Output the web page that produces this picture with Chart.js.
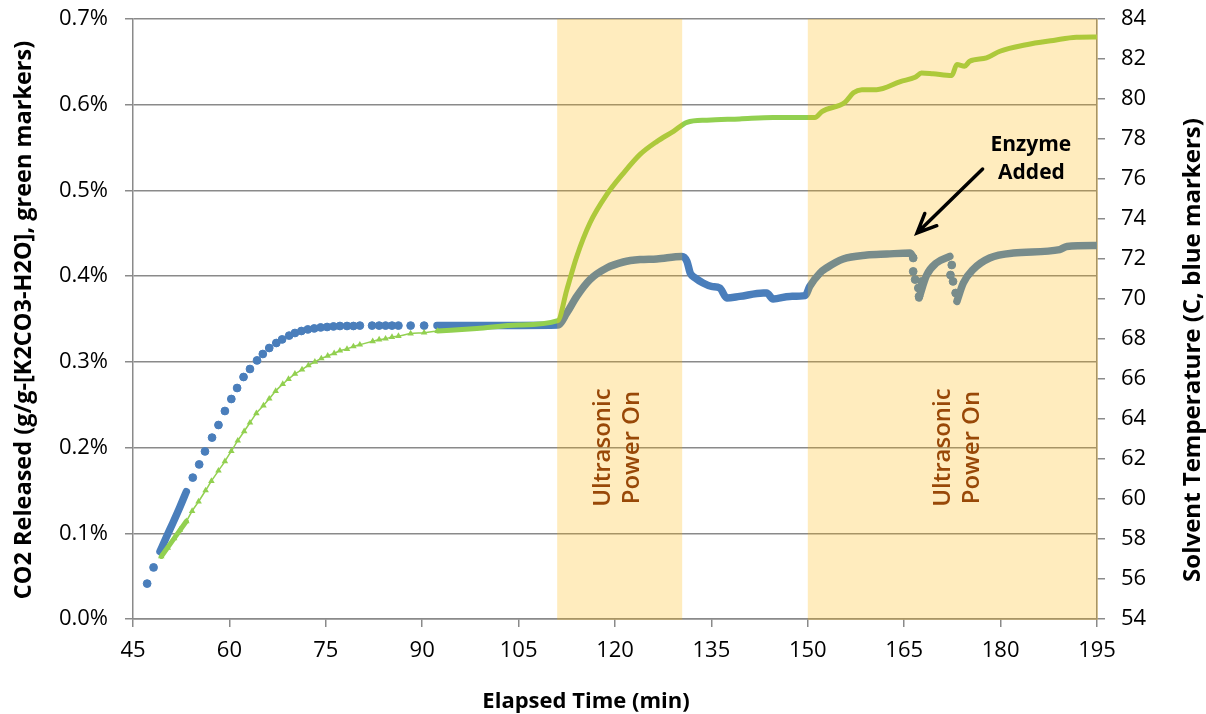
<!DOCTYPE html>
<html>
<head>
<meta charset="utf-8">
<script src="https://cdn.jsdelivr.net/npm/chart.js@4.4.1/dist/chart.umd.min.js"></script>
<style>
  html, body { margin: 0; padding: 0; background: #fff; }
  #wrap { width: 1206px; height: 714px; }
</style>
</head>
<body>
<div id="wrap"><canvas id="co2Chart" width="1206" height="714"></canvas></div>
<script>
// CO2 released (%), sparse triangle markers
const co2MarkerTime = [49.4, 50.4, 51.4, 52.3, 53.3, 54.2, 55.2, 56.3, 57.2, 58.3, 59.3, 60.3, 61.3, 62.3, 63.2, 64.2, 65.3, 66.2, 67.2, 68.3,
  69.2, 70.2, 71.3, 72.3, 73.3, 74.3, 75.3, 76.3, 77.2, 78.3, 79.3, 80.3, 82.3, 83.3, 84.3, 85.3, 86.3, 88.2, 90.3, 92.4];
const co2MarkerValue = [0.073, 0.083, 0.094, 0.104, 0.114, 0.126, 0.137, 0.150, 0.161, 0.173, 0.184, 0.196, 0.208, 0.219, 0.229, 0.240, 0.249, 0.257, 0.266, 0.274,
  0.280, 0.286, 0.291, 0.296, 0.300, 0.304, 0.307, 0.310, 0.313, 0.315, 0.318, 0.320, 0.324, 0.326, 0.327, 0.329, 0.330, 0.333, 0.334, 0.336];

// CO2 released (%), dense logging shown as a solid trace (null = gap)
const co2TraceTime = [49.4, 53.3, 70, 92.4, 98.5, 105, 111.1, 112.5, 114.05, 116.1, 118.7, 121.3, 123.9, 126.5, 129.1, 131.2, 134.3, 139.4, 144.6, 149.8,
  151.1, 152.2, 155.8, 157.1, 158.4, 160.7, 164.4, 166.7, 167.7, 169.5, 172.4, 173.2, 174.4, 175.2, 177.8, 179.9, 184.0, 188.2, 191.8, 195];
const co2TraceValue = [0.073, 0.114, null, 0.336, 0.339, 0.343, 0.348, 0.384, 0.423, 0.462, 0.495, 0.520, 0.542, 0.557, 0.569, 0.5795, 0.582, 0.5834, 0.585, 0.585,
  0.585, 0.592, 0.603, 0.614, 0.6176, 0.6176, 0.627, 0.632, 0.637, 0.636, 0.634, 0.6468, 0.645, 0.6507, 0.6546, 0.6624, 0.670, 0.675, 0.6787, 0.679];

// solvent temperature (C), sparse circle markers
const tempMarkerTime = [47.2, 48.2, 54.3, 55.3, 56.2, 57.3, 58.3, 59.3, 60.3, 61.2, 62.2, 63.2, 64.3, 65.2, 66.2, 67.3, 68.2, 69.3, 70.2, 71.2,
  72.2, 73.2, 74.2, 75.2, 76.2, 77.2, 78.3, 79.3, 80.3, 82.2, 83.3, 84.3, 85.3, 86.3, 88.2, 90.3,
  166.4, 166.4, 166.7, 167.2, 167.3, 167.7, 172.2, 172.4, 172.6, 173.0];
const tempMarkerValue = [55.77, 56.58, 61.07, 61.73, 62.38, 63.07, 63.7, 64.4, 65.0, 65.55, 66.1, 66.5, 66.93, 67.25, 67.55, 67.8, 67.98, 68.17, 68.3, 68.4,
  68.48, 68.53, 68.58, 68.6, 68.63, 68.65, 68.65, 68.65, 68.67, 68.67, 68.67, 68.67, 68.67, 68.67, 68.67, 68.67,
  72.05, 71.38, 70.97, 70.55, 70.13, 70.88, 71.2, 71.7, 70.88, 70.3];

// solvent temperature (C), dense logging shown as a solid trace (null = gap)
const tempTraceTime = [49.2, 50.2, 51.2, 52.3, 53.3, 70, 92.3, 100, 105, 111.1, 112.5, 114.05, 116.1, 118.7, 121.3, 123.9, 126.5, 130.4, 131.2, 131.7,
  132.5, 133.7, 135.0, 136.3, 137.4, 139.4, 143.1, 143.6, 144.6, 147.2, 149.6, 150.3, 151.9, 152.9, 155.5, 159.2, 162.3, 165.9, 166.4, 167,
  167.3, 168.5, 170.0, 172.1, 172.7, 173.2, 174.2, 175.7, 178.3, 182.0, 189.2, 190.3, 194.4, 195];
const tempTraceValue = [57.37, 58.1, 58.8, 59.6, 60.37, null, 68.67, 68.67, 68.68, 68.7, 69.3, 70.13, 70.97, 71.55, 71.85, 71.97, 72.0, 72.13, 71.88, 71.3,
  71.05, 70.8, 70.63, 70.55, 70.05, 70.13, 70.3, 70.3, 70.0, 70.13, 70.17, 70.63, 71.3, 71.55, 72.0, 72.2, 72.25, 72.3, 72.1, null,
  70.05, 71.2, 71.8, 72.13, null, 69.88, 70.8, 71.47, 72.05, 72.3, 72.47, 72.63, 72.67, 72.67];

// ultrasonic power on periods (min)
const powerOnStart = [111, 150];
const powerOnEnd = [130.3, 195];

const xTicks = { min: 45, max: 195, step: 15 };
const co2Ticks = { min: 0, max: 0.7, step: 0.1 };
const tempTicks = { min: 54, max: 84, step: 2 };

const toPoints = (xs, ys) => xs.map((x, i) => ({ x: x, y: ys[i] }));

const FONT = "'Open Sans', 'Noto Sans', sans-serif";
const GRID = '#8a8a8a';
const BLUE = '#4a7ebb';
const GREEN = '#92d050';

// keep the plot area where the reference has it
function noEdgePad(s) { s.paddingTop = 0; s.paddingBottom = 0; }

const overlayPlugin = {
  id: 'overlay',
  afterDatasetsDraw(chart) {
    const { ctx, chartArea, scales } = chart;
    const x = scales.x, yc = scales.yCO2;
    ctx.save();
    ctx.fillStyle = 'rgba(255,180,0,0.255)';
    powerOnStart.forEach((s, i) => {
      const x0 = x.getPixelForValue(s);
      const x1 = x.getPixelForValue(powerOnEnd[i]);
      ctx.fillRect(x0, chartArea.top, x1 - x0 + 1, chartArea.bottom - chartArea.top + 1);
    });
    // "Ultrasonic Power On" labels
    ctx.fillStyle = '#984807';
    ctx.font = '600 24px ' + FONT;
    ctx.textAlign = 'center';
    ctx.textBaseline = 'middle';
    [120.4, 173.2].forEach(t => {
      ctx.save();
      ctx.translate(x.getPixelForValue(t), yc.getPixelForValue(0.2));
      ctx.rotate(-Math.PI / 2);
      ctx.fillText('Ultrasonic', 0, -14);
      ctx.fillText('Power On', 0, 15);
      ctx.restore();
    });
    ctx.restore();
  },
  afterDraw(chart) {
    const { ctx, scales } = chart;
    const x = scales.x, yt = scales.yTemp;
    ctx.save();
    // enzyme annotation
    ctx.fillStyle = '#000';
    ctx.font = 'bold 21px ' + FONT;
    ctx.textAlign = 'center';
    ctx.textBaseline = 'middle';
    ctx.fillText('Enzyme', x.getPixelForValue(184.7), yt.getPixelForValue(77.7));
    ctx.fillText('Added', x.getPixelForValue(184.8), yt.getPixelForValue(76.3));
    const x0 = x.getPixelForValue(177.2), y0 = yt.getPixelForValue(76.5);
    const x1 = x.getPixelForValue(167.0), y1 = yt.getPixelForValue(73.3);
    const ang = Math.atan2(y1 - y0, x1 - x0);
    ctx.strokeStyle = '#000';
    ctx.lineWidth = 3.5;
    ctx.lineCap = 'round';
    ctx.beginPath();
    ctx.moveTo(x0, y0);
    ctx.lineTo(x1, y1);
    ctx.moveTo(x1 - 21 * Math.cos(ang - 0.42), y1 - 21 * Math.sin(ang - 0.42));
    ctx.lineTo(x1, y1);
    ctx.lineTo(x1 - 21 * Math.cos(ang + 0.42), y1 - 21 * Math.sin(ang + 0.42));
    ctx.stroke();

    // axis titles
    ctx.font = 'bold 22px ' + FONT;
    ctx.fillText('Elapsed Time (min)', 586, 702);
    ctx.save();
    ctx.font = 'bold 23.5px ' + FONT;
    ctx.translate(24, 320);
    ctx.rotate(-Math.PI / 2);
    ctx.fillText('CO2 Released (g/g-[K2CO3-H2O], green markers)', 0, 0);
    ctx.restore();
    ctx.save();
    ctx.font = 'bold 24px ' + FONT;
    ctx.translate(1193, 350);
    ctx.rotate(-Math.PI / 2);
    ctx.fillText('Solvent Temperature (C, blue markers)', 0, 0);
    ctx.restore();
    ctx.restore();
  }
};

Chart.defaults.font.family = FONT;
Chart.defaults.font.size = 22;
Chart.defaults.color = '#000';

new Chart(document.getElementById('co2Chart').getContext('2d'), {
  type: 'line',
  data: {
    datasets: [
      {
        label: 'CO2 trace',
        data: toPoints(co2TraceTime, co2TraceValue),
        yAxisID: 'yCO2',
        borderColor: GREEN,
        borderWidth: 5,
        borderCapStyle: 'round',
        borderJoinStyle: 'round',
        cubicInterpolationMode: 'monotone',
        pointRadius: 0,
        spanGaps: false,
        order: 1
      },
      {
        label: 'CO2 markers',
        data: toPoints(co2MarkerTime, co2MarkerValue),
        yAxisID: 'yCO2',
        borderColor: GREEN,
        borderWidth: 1.5,
        cubicInterpolationMode: 'monotone',
        pointStyle: 'triangle',
        pointRadius: 3.8,
        pointBackgroundColor: GREEN,
        pointBorderWidth: 0,
        order: 2
      },
      {
        label: 'Temperature trace',
        data: toPoints(tempTraceTime, tempTraceValue),
        yAxisID: 'yTemp',
        borderColor: BLUE,
        borderWidth: 7.5,
        borderCapStyle: 'round',
        borderJoinStyle: 'round',
        cubicInterpolationMode: 'monotone',
        pointRadius: 0,
        spanGaps: false,
        order: 3
      },
      {
        label: 'Temperature markers',
        data: toPoints(tempMarkerTime, tempMarkerValue),
        yAxisID: 'yTemp',
        showLine: false,
        pointStyle: 'circle',
        pointRadius: 3.9,
        pointBackgroundColor: BLUE,
        pointBorderColor: BLUE,
        pointBorderWidth: 1,
        order: 4
      }
    ]
  },
  options: {
    responsive: false,
    animation: false,
    layout: { padding: { top: 19, left: 0, right: 0, bottom: 0 } },
    plugins: { legend: { display: false }, tooltip: { enabled: false } },
    scales: {
      x: {
        type: 'linear',
        min: xTicks.min,
        max: xTicks.max,
        ticks: { stepSize: xTicks.step, padding: 11, maxRotation: 0 },
        grid: { drawOnChartArea: false, tickLength: 8, color: GRID, lineWidth: 1.5 },
        border: { color: GRID, width: 1.5 },
        afterFit(s) { s.height = 95; }
      },
      yCO2: {
        position: 'left',
        min: co2Ticks.min,
        max: co2Ticks.max,
        ticks: { stepSize: co2Ticks.step, padding: 17, callback: v => v.toFixed(1) + '%' },
        grid: { tickLength: 8, color: GRID, lineWidth: 1.5 },
        border: { color: GRID, width: 1.5 },
        afterFit(s) { s.width = 133; noEdgePad(s); }
      },
      yTemp: {
        position: 'right',
        min: tempTicks.min,
        max: tempTicks.max,
        ticks: { stepSize: tempTicks.step, padding: 16 },
        grid: { drawOnChartArea: false, tickLength: 8, color: GRID, lineWidth: 1.5 },
        border: { color: GRID, width: 1.5 },
        afterFit(s) { s.width = 109; noEdgePad(s); }
      }
    }
  },
  plugins: [overlayPlugin]
});
</script>
</body>
</html>
